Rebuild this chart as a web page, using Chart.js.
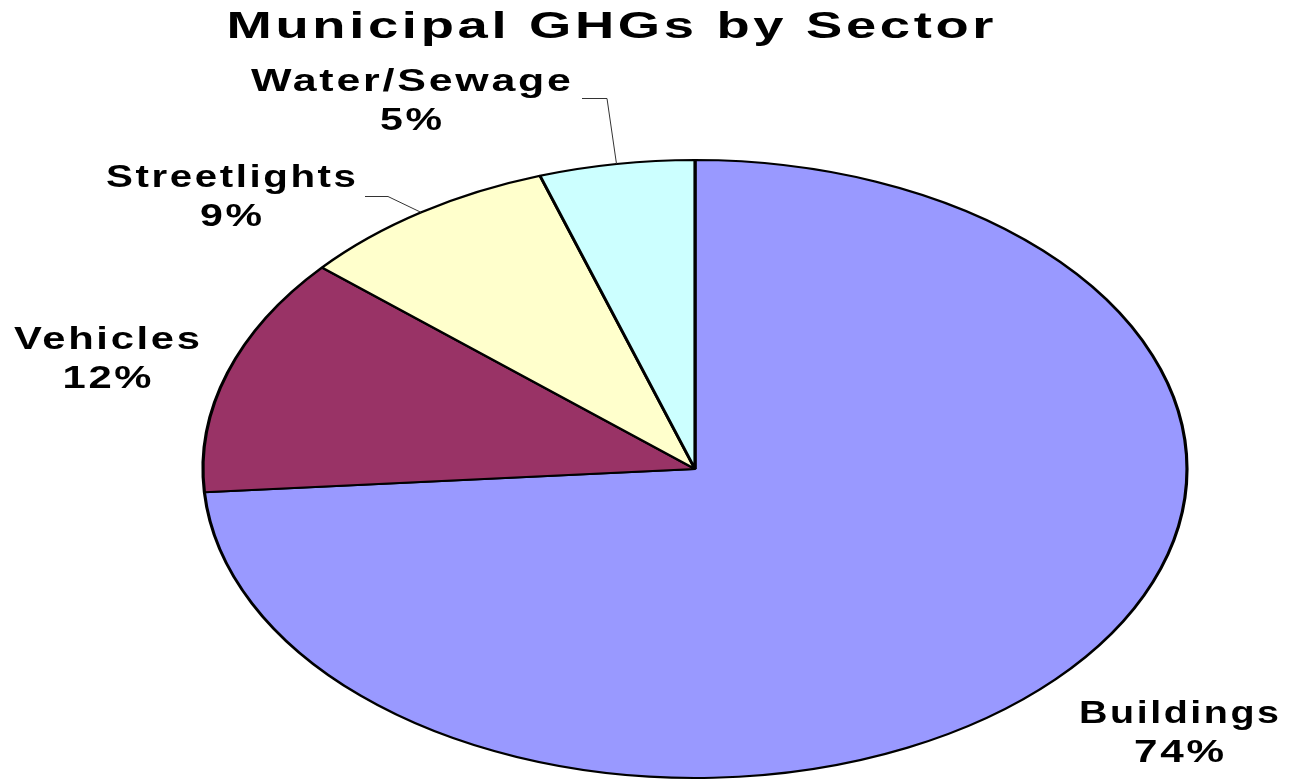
<!DOCTYPE html>
<html>
<head>
<meta charset="utf-8">
<script src="https://cdn.jsdelivr.net/npm/chart.js@4.4.1/dist/chart.umd.min.js"></script>
<style>
html,body{margin:0;padding:0;background:#fff;}
#wrap{width:1296px;height:780px;position:relative;}
</style>
</head>
<body>
<div id="wrap"><canvas id="c" width="1296" height="780"></canvas></div>
<script>
// ---- data ----
const categories = ['Buildings', 'Vehicles', 'Streetlights', 'Water/Sewage'];
const values = [73.8, 12.5, 8.6, 5.1];
const percentLabels = ['74%', '12%', '9%', '5%'];
const colors = ['#9999FF', '#993366', '#FFFFCC', '#CCFFFF'];
const titleText = 'Municipal GHGs by Sector';

// ---- layout ----
const RX = 492, RY = 309;          // ellipse radii
const SX = RX / RY;                 // horizontal stretch
// label placements: [centerX, baseline1, baseline2, width1, width2]
const labelLayout = {
  'Buildings':    [1179, 723, 762, 200, 90],
  'Vehicles':     [107, 349, 388, 186, 89],
  'Streetlights': [231, 187, 226, 250, 62],
  'Water/Sewage': [411, 91, 130, 320, 62]
};
// leader line start points (elbow) for labels that have one
const leaders = {
  'Water/Sewage': [[582, 98], [607, 98]],
  'Streetlights': [[365, 196], [388, 196]]
};

function fitText(ctx, text, cx, baseline, size, width, spacing) {
  ctx.save();
  ctx.font = 'bold ' + size + 'px "Liberation Sans", Arial, sans-serif';
  ctx.letterSpacing = spacing + 'px';
  const w = ctx.measureText(text).width - spacing;
  const s = width / w;
  ctx.translate(cx, baseline);
  ctx.scale(s, 1);
  ctx.textAlign = 'left';
  ctx.textBaseline = 'alphabetic';
  ctx.fillStyle = '#000';
  ctx.fillText(text, -w / 2, 0);
  ctx.restore();
}

const stretchPlugin = {
  id: 'stretch',
  beforeDatasetsDraw(chart) {
    const meta = chart.getDatasetMeta(0);
    const a = meta.data[0];
    const ctx = chart.ctx;
    ctx.save();
    ctx.translate(a.x, a.y);
    ctx.scale(SX, 1);
    ctx.translate(-a.x, -a.y);
  },
  afterDatasetsDraw(chart) {
    chart.ctx.restore();
  }
};

const labelPlugin = {
  id: 'labels',
  afterDraw(chart) {
    const ctx = chart.ctx;
    // title
    fitText(ctx, titleText, 610, 38, 37, 767, 2.5);
    const meta = chart.getDatasetMeta(0);
    meta.data.forEach((arc, i) => {
      const name = categories[i];
      const L = labelLayout[name];
      fitText(ctx, name, L[0], L[1], 31, L[3], 2);
      fitText(ctx, percentLabels[i], L[0], L[2], 31, L[4], 2);
      if (leaders[name]) {
        const p = arc.getProps(['x', 'y', 'startAngle', 'endAngle', 'outerRadius'], true);
        const mid = (p.startAngle + p.endAngle) / 2;
        const ex = p.x + Math.cos(mid) * p.outerRadius * SX;
        const ey = p.y + Math.sin(mid) * p.outerRadius;
        const pts = leaders[name];
        ctx.save();
        ctx.strokeStyle = '#333';
        ctx.lineWidth = 1;
        ctx.beginPath();
        ctx.moveTo(pts[0][0], pts[0][1] + 0.5);
        ctx.lineTo(pts[1][0], pts[1][1] + 0.5);
        ctx.lineTo(ex, ey);
        ctx.stroke();
        ctx.restore();
      }
    });
  }
};

new Chart(document.getElementById('c'), {
  type: 'pie',
  data: {
    labels: categories,
    datasets: [{
      data: values,
      backgroundColor: colors,
      borderColor: '#000',
      borderWidth: 2,
      borderAlign: 'center'
    }]
  },
  options: {
    responsive: false,
    animation: false,
    events: [],
    layout: { padding: { left: 385, right: 291, top: 159, bottom: 1 } },
    plugins: {
      legend: { display: false },
      title: { display: false },
      tooltip: { enabled: false }
    }
  },
  plugins: [stretchPlugin, labelPlugin]
});
</script>
</body>
</html>
